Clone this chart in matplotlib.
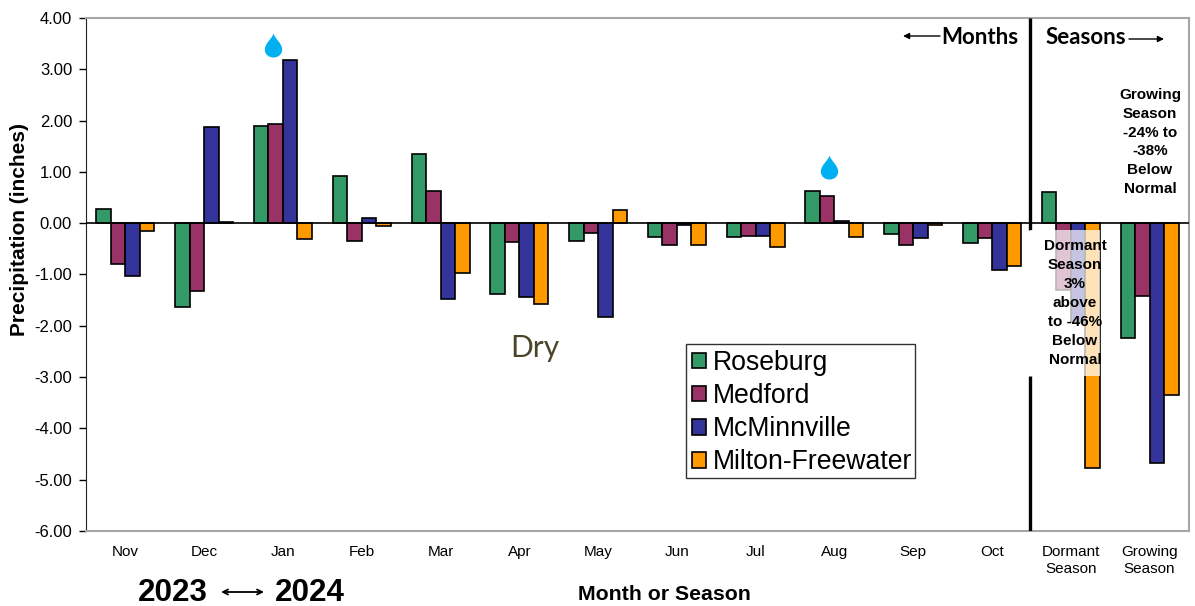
import numpy as np
import matplotlib
matplotlib.use("Agg")
import matplotlib.pyplot as plt
from matplotlib.path import Path
from matplotlib.patches import Rectangle

categories = ["Nov", "Dec", "Jan", "Feb", "Mar", "Apr", "May", "Jun", "Jul", "Aug", "Sep", "Oct",
              "Dormant\nSeason", "Growing\nSeason"]
roseburg = [0.28, -1.63, 1.90, 0.92, 1.35, -1.38, -0.35, -0.27, -0.26, 0.62, -0.21, -0.38, 0.60, -2.24]
medford = [-0.80, -1.32, 1.93, -0.35, 0.63, -0.37, -0.20, -0.42, -0.24, 0.53, -0.42, -0.29, -1.30, -1.42]
mcminnville = [-1.02, 1.87, 3.18, 0.10, -1.48, -1.43, -1.82, -0.03, -0.25, 0.05, -0.28, -0.92, -1.93, -4.67]
milton = [-0.15, 0.03, -0.30, -0.05, -0.97, -1.58, 0.25, -0.43, -0.47, -0.27, -0.03, -0.83, -4.78, -3.35]
y_ticks = [4, 3, 2, 1, 0, -1, -2, -3, -4, -5, -6]

W, H = 1195, 606
plt.rcParams["font.family"] = ["Liberation Sans", "DejaVu Sans"]

fig = plt.figure(figsize=(W / 100, H / 100), dpi=100)
ax = fig.add_axes([86 / W, 1 - 531 / H, (1189 - 86) / W, (531 - 18) / H])

x = np.arange(len(categories))
width = 0.184
series = [("Roseburg", roseburg, "#339966"), ("Medford", medford, "#993366"),
          ("McMinnville", mcminnville, "#333399"), ("Milton-Freewater", milton, "#FF9900")]
for i, (name, vals, col) in enumerate(series):
    ax.bar(x + (i - 1.5) * width, vals, width, color=col, edgecolor="black", linewidth=1.2,
           label=name, zorder=2)

ax.set_xlim(-0.5, 13.5)
ax.set_ylim(-6, 4)
ax.set_xticks(x)
ax.set_xticklabels(categories, fontsize=11, linespacing=1.3)
ax.tick_params(axis="x", length=0, pad=10)
ax.set_yticks(y_ticks)
ax.set_yticklabels([f"{v:.2f}" for v in y_ticks], fontsize=12)
ax.tick_params(axis="y", length=5, width=1, pad=5)
ax.set_ylabel("Precipitation (inches)", fontsize=15, fontweight="bold")
ax.yaxis.set_label_coords((29 - 86) / 1103, 1 - (230 - 18) / 513)

for side in ["top", "right", "bottom"]:
    ax.spines[side].set_color("#a6a6a6")
    ax.spines[side].set_linewidth(1.5)
ax.spines["left"].set_color("#222222")
ax.axhline(0, color="black", lw=1.2, zorder=3)
# divider between months and seasons, broken where the label box sits
ax.vlines([11.48, 11.48], [-6, -0.14], [-2.98, 4], color="black", lw=2.4, zorder=3)

# white label box over the dormant season bars
tr = fig.transFigure
ax.add_patch(Rectangle((1030 / W, 1 - 376 / H), 70 / W, 146 / H, transform=tr,
                       facecolor="white", alpha=0.72, edgecolor="none", zorder=4))
fig.text(1075 / W, 1 - 303 / H, "Dormant\nSeason\n3%\nabove\nto -46%\nBelow\nNormal", ha="center", va="center",
         fontsize=11, fontweight="bold", linespacing=1.45, zorder=6)
fig.text(1150 / W, 1 - 142 / H, "Growing\nSeason\n-24% to\n-38%\nBelow\nNormal", ha="center", va="center",
         fontsize=11, fontweight="bold", linespacing=1.45)

fig.text(980 / W, 1 - 37 / H, "Months", ha="center", va="center", fontsize=16, fontweight="bold", family="Lato")
fig.text(1086 / W, 1 - 37 / H, "Seasons", ha="center", va="center", fontsize=16, fontweight="bold", family="Lato")
fig.text(535 / W, 1 - 348 / H, "Dry", ha="center", va="center", fontsize=21.5, color="#4A452A", family="Lato")


def arrow(x0, y0, x1, y1, style="-|>", lw=1):
    ax.annotate("", xy=(x1 / W, 1 - y1 / H), xytext=(x0 / W, 1 - y0 / H), xycoords=tr, textcoords=tr,
                arrowprops=dict(arrowstyle=style, color="black", lw=lw, mutation_scale=9,
                                shrinkA=0, shrinkB=0), annotation_clip=False)


arrow(940, 36, 903, 36)
arrow(1129, 39, 1164, 39)

# water drops
drop = Path([(0, 1.0), (0.12, 0.55), (0.72, 0.2), (0.72, -0.35), (0.72, -0.75), (0.38, -1.0), (0, -1.0),
             (-0.38, -1.0), (-0.72, -0.75), (-0.72, -0.35), (-0.72, 0.2), (-0.12, 0.55), (0, 1.0)],
            [Path.MOVETO] + [Path.CURVE4] * 12)
ax.scatter([2 - 0.13, 9 - 0.07], [3.48, 1.1], marker=drop, s=300, color="#00B0F0", linewidths=0, zorder=5)

# legend frame drawn by hand, the built-in one pads both sides the same
ax.add_patch(Rectangle((686 / W, 1 - 478 / H), 229 / W, 134 / H, transform=tr, facecolor="white",
                       edgecolor="#333333", linewidth=1, zorder=4.5))
leg = ax.legend(loc="upper left", bbox_to_anchor=((686 - 86) / (1189 - 86), 1 - (344 - 18) / (531 - 18)),
                fontsize=19.2, frameon=False,
                handlelength=0.53, handleheight=0.53, handletextpad=0.25, labelspacing=0.27,
                borderpad=0.22, borderaxespad=0)
leg.set_zorder(5)

fig.text(664.5 / W, 1 - 594 / H, "Month or Season", ha="center", va="center", fontsize=15.3, fontweight="bold")
fig.text(173 / W, 1 - 593 / H, "2023", ha="center", va="center", fontsize=22.6, fontweight="bold")
fig.text(309.5 / W, 1 - 593 / H, "2024", ha="center", va="center", fontsize=22.6, fontweight="bold")
arrow(221, 592, 264, 592, "<->", 1.3)

fig.savefig("out.png", dpi=100)
